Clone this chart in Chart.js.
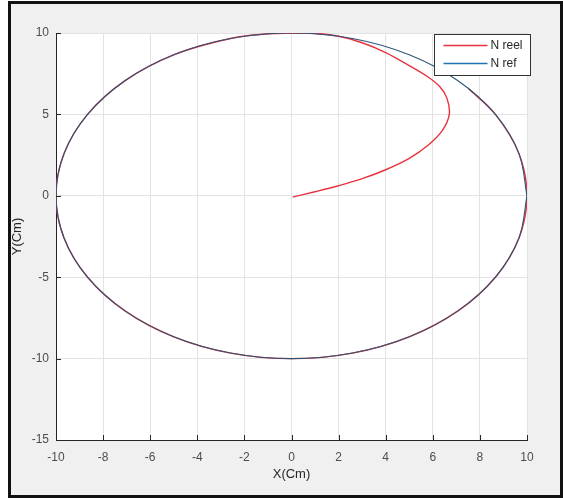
<!DOCTYPE html>
<html>
<head>
<meta charset="utf-8">
<script src="https://cdn.jsdelivr.net/npm/chart.js@4"></script>
<style>
  body { margin: 0; background: #fff; }
  .frame {
    position: absolute; left: 8px; top: 1px; width: 555px; height: 497px;
    box-sizing: border-box; border: 3px solid #111; background: #f0f0f0;
  }
  #plot { position: absolute; left: 0; top: 0; }
</style>
</head>
<body>
<div class="frame"></div>
<canvas id="plot" width="563" height="499"></canvas>
<script>
// reference trajectory (circle of radius 10)
const refX = [10, 9.66, 8.66, 7.07, 5, 2.59, 0, -2.59, -5, -7.07, -8.66, -9.66, -10,
  -9.66, -8.66, -7.07, -5, -2.59, 0, 2.59, 5, 7.07, 8.66, 9.66, 10];
const refY = [0, 2.59, 5, 7.07, 8.66, 9.66, 10, 9.66, 8.66, 7.07, 5, 2.59, 0,
  -2.59, -5, -7.07, -8.66, -9.66, -10, -9.66, -8.66, -7.07, -5, -2.59, 0];

// measured trajectory, starts at origin and joins the circle
const reelX = [0.05, 1, 2, 3, 4, 5, 5.8, 6.4, 6.7, 6.6, 6.3, 5.8, 5.0, 4.0, 3.0, 2.0, 0.8, -1,
  -2.59, -5, -7.07, -8.66, -9.66, -10, -9.66, -8.66, -7.07, -5, -2.59, 0, 2.59, 5, 7.07,
  8.66, 9.66, 10, 9.66, 8.66, 7.5];
const reelY = [-0.08, 0.25, 0.62, 1.05, 1.6, 2.3, 3.1, 4.0, 5.0, 6.0, 6.7, 7.3, 8.0, 8.8, 9.4, 9.8, 10.0, 9.95,
  9.66, 8.66, 7.07, 5, 2.59, 0, -2.59, -5, -7.07, -8.66, -9.66, -10, -9.66, -8.66, -7.07,
  -5, -2.59, 0, 2.59, 5, 6.6];

const xTicks = [-10, 10, 2];
const yTicks = [-15, 10, 5];
const names = ['N reel', 'N ref'];
const legendColors = ['#e8333f', '#1f74b0'];

const toPts = (xs, ys) => xs.map((x, i) => ({x: x, y: ys[i]}));

const FONT = 'Liberation Sans, Arial, sans-serif';

const framePlugin = {
  id: 'frame',
  beforeDraw(chart) {
    const a = chart.chartArea, ctx = chart.ctx;
    ctx.save();
    ctx.fillStyle = '#fff';
    ctx.fillRect(a.left, a.top, a.right - a.left, a.bottom - a.top);
    ctx.restore();
  },
  afterDraw(chart) {
    const a = chart.chartArea, ctx = chart.ctx;
    const sx = chart.scales.x, sy = chart.scales.y;
    ctx.save();
    ctx.strokeStyle = '#262626';
    ctx.lineWidth = 1;
    ctx.beginPath();
    sx.ticks.forEach(t => {
      const px = Math.round(sx.getPixelForValue(t.value)) + 0.5;
      ctx.moveTo(px, a.bottom); ctx.lineTo(px, a.bottom - 5);
    });
    sy.ticks.forEach(t => {
      const py = Math.round(sy.getPixelForValue(t.value)) + 0.5;
      ctx.moveTo(a.left, py); ctx.lineTo(a.left + 5, py);
    });
    ctx.stroke();

    // legend box, top right
    const bx = 434.5, by = 34.5, bw = 96, bh = 41;
    ctx.fillStyle = '#fff';
    ctx.fillRect(bx, by, bw, bh);
    ctx.strokeStyle = '#333';
    ctx.strokeRect(bx, by, bw, bh);
    ctx.font = '12px ' + FONT;
    ctx.textBaseline = 'middle';
    names.forEach((n, i) => {
      const y = by + 11 + i * 18;
      ctx.strokeStyle = legendColors[i];
      ctx.lineWidth = 1.5;
      ctx.beginPath();
      ctx.moveTo(bx + 9, y); ctx.lineTo(bx + 53, y);
      ctx.stroke();
      ctx.fillStyle = '#262626';
      ctx.fillText(n, bx + 56, y);
    });
    ctx.restore();
  }
};

new Chart(document.getElementById('plot'), {
  type: 'scatter',
  data: {
    datasets: [{
      label: names[0],
      data: toPts(reelX, reelY),
      showLine: true,
      borderColor: legendColors[0],
      borderWidth: 1.4,
      pointRadius: 0,
      tension: 0.34,
      order: 1
    }, {
      label: names[1],
      data: toPts(refX, refY),
      showLine: true,
      borderColor: '#2b5578',
      borderWidth: 1.1,
      pointRadius: 0,
      tension: 0.34,
      order: 0
    }]
  },
  options: {
    responsive: false,
    animation: false,
    layout: { padding: { left: 0, top: 33, right: 36, bottom: 0 } },
    plugins: { legend: { display: false }, tooltip: { enabled: false } },
    scales: {
      x: {
        min: xTicks[0], max: xTicks[1],
        afterFit(s) { s.height = 59; },
        ticks: { stepSize: xTicks[2], padding: 10, color: '#4d4d4d', font: { family: FONT, size: 12 } },
        grid: { color: '#e3e3e3', drawTicks: false },
        border: { color: '#262626', width: 1 },
        title: { display: true, text: 'X(Cm)', color: '#262626',
          font: { family: FONT, size: 13 }, padding: { top: 0, bottom: 17 } }
      },
      y: {
        min: yTicks[0], max: yTicks[1],
        afterFit(s) { s.width = 56; },
        ticks: { stepSize: yTicks[2], padding: 7, color: '#4d4d4d', font: { family: FONT, size: 12 } },
        grid: { color: '#e3e3e3', drawTicks: false },
        border: { color: '#262626', width: 1 },
        title: { display: true, text: 'Y(Cm)', color: '#262626',
          font: { family: FONT, size: 13 }, padding: { top: 10, bottom: 0 } }
      }
    }
  },
  plugins: [framePlugin]
});
</script>
</body>
</html>
